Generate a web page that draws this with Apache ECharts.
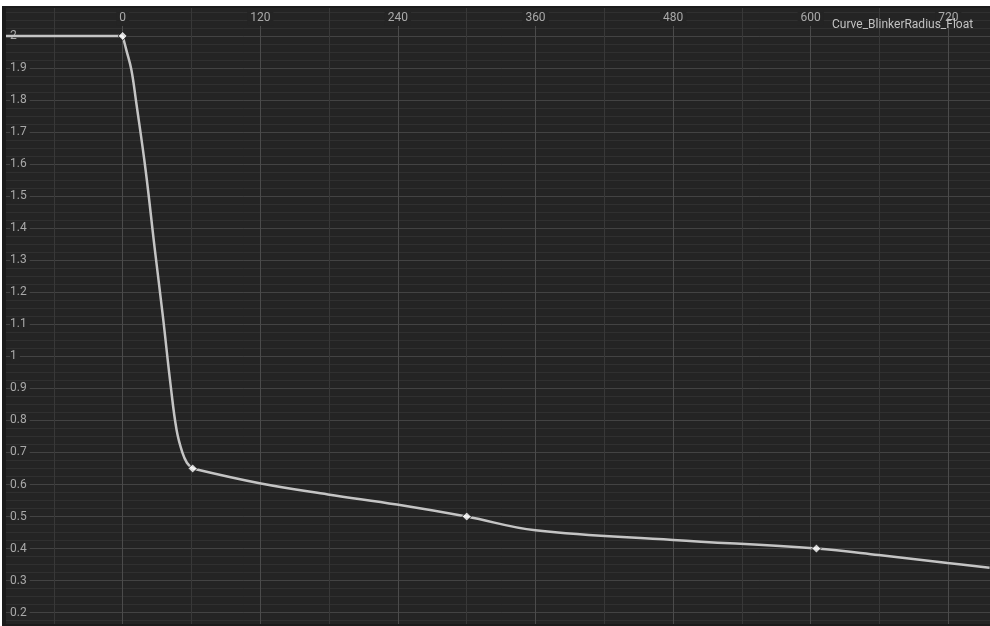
<!DOCTYPE html>
<html>
<head>
<meta charset="utf-8">
<script src="https://cdn.jsdelivr.net/npm/echarts@6/dist/echarts.min.js"></script>
<style>
  html, body { margin: 0; padding: 0; background: #ffffff; overflow: hidden; }
  #wrap { position: relative; width: 990px; height: 626px; overflow: hidden; background: #ffffff; }
  #chart { position: absolute; left: -15px; top: 0px; width: 1033px; height: 646px; }
</style>
</head>
<body>
<div id="wrap"><div id="chart"></div></div>
<script>
// ---- data ----
const curveTitle = 'Curve_BlinkerRadius_Float';
// constant pre-infinity segment
const flatX = [-120, 0];
const flatY = [2, 2];
// steep drop between the first two keys (read along the drawn spline)
const dropX = [0, 3.2, 7.6, 11.9, 20, 27.9, 35.1, 41.6, 47, 52, 56, 61];
const dropY = [2, 1.956, 1.894, 1.79, 1.581, 1.337, 1.123, 0.916, 0.77, 0.7, 0.668, 0.65];
// slow tail after the second key
const tailX = [61, 119.4, 179, 239.1, 300, 360, 480, 605, 659.3, 719.4, 756];
const tailY = [0.65, 0.604, 0.569, 0.5375, 0.5, 0.457, 0.427, 0.4, 0.38, 0.355, 0.34];
// key frames (white diamonds)
const keyX = [0, 61, 300, 605];
const keyY = [2, 0.65, 0.5, 0.4];
// axis ranges / ticks
const xMin = -120, xMax = 780, xStep = 120;
const yMin = 0.1, yMax = 2.1, yStep = 0.1;

const BG = '#242424';
const OX = 15; // chart div offset inside the viewport
const chart = echarts.init(document.getElementById('chart'), null, { renderer: 'canvas' });
const zip = (xs, ys) => xs.map((x, i) => [x, ys[i]]);

chart.setOption({
  backgroundColor: BG,
  animation: false,
  grid: { left: 0.1, right: 0.9, top: 3.96, bottom: 1.3, containLabel: false },
  xAxis: {
    type: 'value', position: 'top',
    min: xMin, max: xMax, interval: xStep,
    axisLine: { show: false }, axisTick: { show: false },
    axisLabel: {
      inside: true, margin: 4, color: '#a9a9a9', fontSize: 12, fontFamily: 'Roboto',
      backgroundColor: BG, padding: [4, 3, 2, 3],
      showMinLabel: false, showMaxLabel: false
    },
    splitLine: { show: true, lineStyle: { color: '#4b4b4b', width: 1 } },
    minorTick: { show: false, splitNumber: 2 },
    minorSplitLine: { show: true, lineStyle: { color: '#383838', width: 1 } }
  },
  yAxis: {
    type: 'value',
    min: yMin, max: yMax, interval: yStep,
    axisLine: { show: false }, axisTick: { show: false },
    axisLabel: {
      inside: true, margin: 25, color: '#a9a9a9', fontSize: 12, fontFamily: 'Roboto',
      backgroundColor: BG, padding: [0, 3, 0, 0],
      showMinLabel: false, showMaxLabel: false,
      formatter: v => String(+v.toFixed(2))
    },
    splitLine: { show: true, lineStyle: { color: '#434343', width: 1 } },
    minorTick: { show: false, splitNumber: 4 },
    minorSplitLine: { show: true, lineStyle: { color: '#303030', width: 1 } }
  },
  series: [
    { type: 'line', data: zip(flatX, flatY), symbol: 'none',
      lineStyle: { color: '#c4c4c4', width: 2.5 }, z: 3, silent: true },
    { type: 'line', data: zip(dropX, dropY), symbol: 'none', smooth: 0.4,
      lineStyle: { color: '#c4c4c4', width: 2.5 }, z: 3, silent: true },
    { type: 'line', data: zip(tailX, tailY), symbol: 'none', smooth: 0.4,
      lineStyle: { color: '#c4c4c4', width: 2.5 }, z: 3, silent: true },
    { type: 'scatter', data: zip(keyX, keyY), symbol: 'diamond', symbolSize: 9,
      itemStyle: { color: '#ffffff', borderColor: '#111111', borderWidth: 1 }, z: 5, silent: true }
  ],
  graphic: [
    { type: 'text', left: 832 + OX, top: 19, z: 50,
      style: { text: curveTitle, fill: '#c2c2c2', font: '12px Roboto' } },
    { type: 'rect', left: 0, top: 6, z: 90, shape: { width: 1033, height: 2 }, style: { fill: '#1b1b1b' } },
    { type: 'rect', left: 0, top: 6, z: 90, shape: { width: OX + 6, height: 640 }, style: { fill: '#1b1b1b' } },
    { type: 'rect', left: 0, top: 624, z: 90, shape: { width: 1033, height: 22 }, style: { fill: '#1b1b1b' } },
    { type: 'rect', left: 0, top: 0, z: 100, shape: { width: 1033, height: 6 }, style: { fill: '#ffffff' } },
    { type: 'rect', left: 0, top: 0, z: 100, shape: { width: OX + 2, height: 646 }, style: { fill: '#ffffff' } }
  ]
});
</script>
</body>
</html>
